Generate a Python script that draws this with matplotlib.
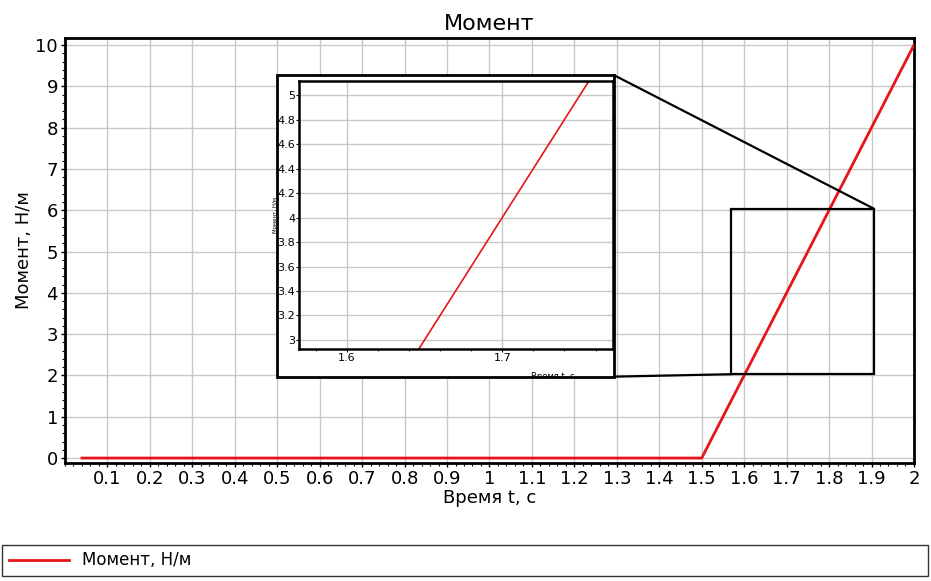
import matplotlib
matplotlib.use("Agg")
import matplotlib.pyplot as plt
from matplotlib.patches import Rectangle, ConnectionPatch
from matplotlib.ticker import MultipleLocator

plt.rcParams['font.family'] = ['DejaVu Sans']

# данные: момент от времени
t = [0.04, 1.5, 2.0]
m = [0.0, 0.0, 10.0]
x_ticks = [0.1, 0.2, 0.3, 0.4, 0.5, 0.6, 0.7, 0.8, 0.9, 1, 1.1, 1.2, 1.3, 1.4, 1.5, 1.6, 1.7, 1.8, 1.9, 2]
x_labels = ["0.1", "0.2", "0.3", "0.4", "0.5", "0.6", "0.7", "0.8", "0.9", "1",
            "1.1", "1.2", "1.3", "1.4", "1.5", "1.6", "1.7", "1.8", "1.9", "2"]
y_ticks = list(range(0, 11))
ins_y = [3, 3.2, 3.4, 3.6, 3.8, 4, 4.2, 4.4, 4.6, 4.8, 5]
ins_ylab = ["3", "3.2", "3.4", "3.6", "3.8", "4", "4.2", "4.4", "4.6", "4.8", "5"]
ins_x = [1.6, 1.7]
zoom_box = (1.57, 2.03, 1.905, 6.04)  # x0, y0, x1, y1

fig = plt.figure(figsize=(9.31, 5.81), dpi=100)
ax = fig.add_axes([0.0698, 0.2031, 0.9119, 0.7315])

ax.plot(t, m, color='#e8141b', lw=2, label='Момент, Н/м', zorder=3)
ax.set_xlim(0, 2)
ax.set_ylim(-0.12, 10.17)
ax.set_xticks(x_ticks)
ax.set_xticklabels(x_labels)
ax.set_yticks(y_ticks)
ax.xaxis.set_minor_locator(MultipleLocator(0.02))
ax.yaxis.set_minor_locator(MultipleLocator(0.2))
ax.tick_params(which='major', length=3, width=1, labelsize=13, pad=2)
ax.tick_params(which='minor', length=2, width=0.8)
ax.grid(True, color='#c8c8c8', lw=1)
for s in ax.spines.values():
    s.set_linewidth(2)
ax.set_title('Момент', fontsize=16, pad=6)
ax.set_xlabel('Время t, с', fontsize=13, labelpad=1)
ax.set_ylabel('Момент, Н/м', fontsize=13, labelpad=2)

# прямоугольник зоны увеличения
x0, y0, x1, y1 = zoom_box
ax.add_patch(Rectangle((x0, y0), x1 - x0, y1 - y0, fill=False, ec='black', lw=1.6, zorder=4))

# рамка вставки
frame = Rectangle((0.2975, 0.3517), 0.3617, 0.5192, transform=fig.transFigure,
                  fc='white', ec='black', lw=2, zorder=5)
fig.patches.append(frame)

con1 = ConnectionPatch(xyA=(0.6592, 0.8709), coordsA='figure fraction',
                       xyB=(x1, y1), coordsB='data', axesB=ax, color='black', lw=1.6, zorder=4)
con2 = ConnectionPatch(xyA=(0.6592, 0.3517), coordsA='figure fraction',
                       xyB=(x0, y0), coordsB='data', axesB=ax, color='black', lw=1.6, zorder=4)
fig.add_artist(con1)
fig.add_artist(con2)

ins = fig.add_axes([0.3215, 0.3988, 0.3366, 0.4623], zorder=6)
ins.plot(t, m, color='#e8141b', lw=1.2)
ins.set_xlim(1.5695, 1.771)
ins.set_ylim(2.924, 5.117)
ins.set_xticks(ins_x)
ins.set_xticklabels(["1.6", "1.7"])
ins.set_yticks(ins_y)
ins.set_yticklabels(ins_ylab)
ins.xaxis.set_minor_locator(MultipleLocator(0.02))
ins.tick_params(which='major', length=2, labelsize=8, pad=1)
ins.tick_params(which='minor', length=1.5)
ins.grid(True, color='#c8c8c8', lw=1)
for s in ins.spines.values():
    s.set_linewidth(1.8)
ins.set_ylabel('Момент, Н/м', fontsize=4, labelpad=0)
ins.set_xlabel('Время t, с', fontsize=6)
ins.xaxis.set_label_coords(0.81, -0.085)
ins.xaxis.label.set_clip_path(frame)

fig.legend(loc='lower left', bbox_to_anchor=(0.002, 0.0086, 0.995, 0.055), mode='expand',
           fancybox=False, edgecolor='#333333', framealpha=1, fontsize=12,
           handlelength=3.6, borderaxespad=0).get_frame().set_linewidth(1)

fig.savefig('out.png', dpi=100)
